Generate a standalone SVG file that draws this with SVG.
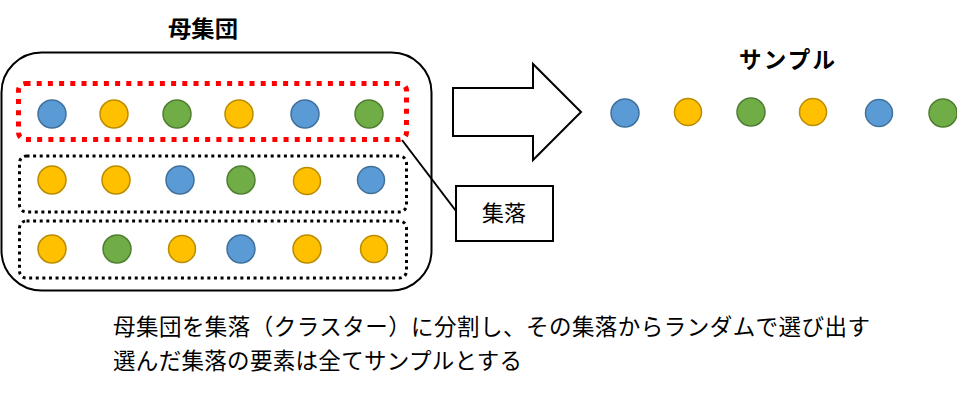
<svg xmlns="http://www.w3.org/2000/svg" width="957" height="397" viewBox="0 0 957 397">
<style>
  .b{fill:#5B9BD5;stroke:#41719C;stroke-width:1.5}
  .o{fill:#FFC000;stroke:#BC8C00;stroke-width:1.5}
  .g{fill:#70AD47;stroke:#507E32;stroke-width:1.5}
  .t{font-family:"Noto Sans CJK JP","Noto Sans CJK SC",sans-serif;fill:#000}
  .dot{fill:none;stroke:#000;stroke-width:3;stroke-dasharray:3 3.6}
</style>
<rect width="957" height="397" fill="#fff"/>
<g id="title-population"><text class="t" x="203" y="37" font-size="22.5" font-weight="bold" text-anchor="middle" textLength="70" lengthAdjust="spacingAndGlyphs">母集団</text></g>
<g id="population">
  <rect x="1.5" y="52.5" width="430" height="238" rx="40" fill="none" stroke="#000" stroke-width="2"/>
</g>
<g id="cluster1">
  <rect x="18.5" y="83.5" width="388" height="56" rx="7" fill="none" stroke="#FF0000" stroke-width="5" stroke-dasharray="5 6.2"/>
  <circle class="b" cx="52" cy="114" r="14"/>
  <circle class="o" cx="114" cy="114" r="14"/>
  <circle class="g" cx="177" cy="114" r="14"/>
  <circle class="o" cx="239" cy="114" r="14"/>
  <circle class="b" cx="305" cy="114" r="14"/>
  <circle class="g" cx="369" cy="114" r="14"/>
</g>
<g id="cluster2">
  <rect class="dot" x="19.5" y="156" width="387" height="56" rx="7"/>
  <circle class="o" cx="52" cy="180" r="14"/>
  <circle class="o" cx="116" cy="180" r="14"/>
  <circle class="b" cx="180" cy="180" r="14"/>
  <circle class="g" cx="241" cy="180" r="14"/>
  <circle class="o" cx="307" cy="181" r="13.5"/>
  <circle class="b" cx="371" cy="180" r="13.5"/>
</g>
<g id="cluster3">
  <rect class="dot" x="19.5" y="221" width="387" height="57" rx="7"/>
  <circle class="o" cx="52" cy="249" r="14"/>
  <circle class="g" cx="117" cy="249" r="14"/>
  <circle class="o" cx="182" cy="249" r="13.5"/>
  <circle class="b" cx="241" cy="249" r="14"/>
  <circle class="o" cx="307" cy="249" r="14"/>
  <circle class="o" cx="374" cy="249" r="13.5"/>
</g>
<g id="big-arrow">
  <polygon points="453,88 533,88 533,64 581,112 533,160 533,136 453,136" fill="#fff" stroke="#000" stroke-width="2" stroke-linejoin="miter"/>
</g>
<g id="title-sample"><text class="t" x="787" y="68" font-size="22.5" font-weight="bold" text-anchor="middle" textLength="96" lengthAdjust="spacing">サンプル</text></g>
<g id="sample">
  <circle class="b" cx="625" cy="113" r="14"/>
  <circle class="o" cx="688" cy="112" r="13.5"/>
  <circle class="g" cx="751" cy="112" r="14"/>
  <circle class="o" cx="813" cy="112" r="13.5"/>
  <circle class="b" cx="879" cy="113" r="13.5"/>
  <circle class="g" cx="943" cy="113" r="14"/>
</g>
<g id="label-cluster">
  <rect x="456" y="186" width="97" height="55" fill="#fff" stroke="#000" stroke-width="2"/>
  <text class="t" x="504" y="221" font-size="22" text-anchor="middle">集落</text>
</g>
<g id="connectors">
  <line x1="402" y1="140" x2="456" y2="211" stroke="#000" stroke-width="2"/>
</g>
<g id="caption">
  <text class="t" x="113" y="335" font-size="22.5" textLength="757" lengthAdjust="spacing">母集団を集落（クラスター）に分割し、その集落からランダムで選び出す</text>
  <text class="t" x="113" y="369" font-size="22.5" textLength="409" lengthAdjust="spacing">選んだ集落の要素は全てサンプルとする</text>
</g>
</svg>
